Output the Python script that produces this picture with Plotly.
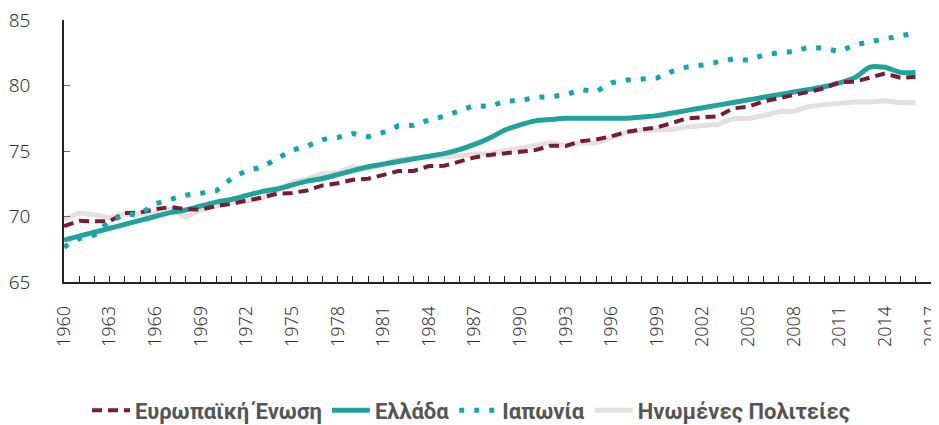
import plotly.graph_objects as go

years = list(range(1960, 2017))

eu = [69.26, 69.67, 69.63, 69.64, 70.27, 70.30, 70.56, 70.72, 70.56, 70.53,
      70.79, 70.96, 71.22, 71.44, 71.74, 71.80, 71.99, 72.37, 72.54, 72.80,
      72.88, 73.18, 73.47, 73.48, 73.85, 73.87, 74.19, 74.51, 74.70, 74.82,
      74.92, 75.07, 75.41, 75.39, 75.75, 75.88, 76.13, 76.46, 76.64, 76.79,
      77.15, 77.49, 77.58, 77.64, 78.25, 78.38, 78.78, 79.02, 79.22, 79.52,
      79.79, 80.26, 80.28, 80.57, 80.92, 80.60, 80.65]

greece = [68.2, 68.5, 68.8, 69.1, 69.4, 69.7, 70.0, 70.3, 70.5, 70.8,
          71.1, 71.3, 71.6, 71.9, 72.1, 72.4, 72.7, 72.9, 73.2, 73.5,
          73.8, 74.0, 74.2, 74.4, 74.6, 74.8, 75.1, 75.5, 76.0, 76.6,
          77.0, 77.3, 77.4, 77.5, 77.5, 77.5, 77.5, 77.5, 77.6, 77.7,
          77.9, 78.1, 78.3, 78.5, 78.7, 78.9, 79.1, 79.3, 79.5, 79.7,
          79.9, 80.2, 80.6, 81.4, 81.4, 81.0, 81.0]

japan = [67.67, 68.31, 68.59, 69.66, 70.13, 70.19, 70.97, 71.28, 71.63, 71.77,
         71.95, 72.88, 73.51, 73.76, 74.39, 75.06, 75.38, 75.87, 76.03, 76.34,
         76.09, 76.42, 76.92, 76.96, 77.37, 77.65, 78.06, 78.48, 78.39, 78.82,
         78.84, 79.10, 79.15, 79.29, 79.69, 79.54, 80.20, 80.42, 80.50, 80.57,
         81.08, 81.42, 81.56, 81.76, 82.03, 81.93, 82.32, 82.51, 82.59, 82.93,
         82.84, 82.59, 83.10, 83.33, 83.59, 83.79, 83.98]

usa = [69.77, 70.27, 70.12, 69.92, 70.17, 70.21, 70.21, 70.56, 69.95, 70.51,
       70.81, 71.11, 71.16, 71.36, 71.96, 72.60, 72.86, 73.26, 73.36, 73.80,
       73.61, 74.01, 74.36, 74.46, 74.56, 74.56, 74.61, 74.77, 74.77, 75.02,
       75.21, 75.37, 75.62, 75.42, 75.62, 75.62, 76.03, 76.43, 76.58, 76.58,
       76.64, 76.84, 76.94, 77.04, 77.49, 77.49, 77.69, 77.99, 78.04, 78.39,
       78.54, 78.64, 78.74, 78.74, 78.84, 78.69, 78.69]

names = ["Ευρωπαϊκή Ένωση", "Ελλάδα", "Ιαπωνία", "Ηνωμένες Πολιτείες"]
x_ticks = list(range(1960, 2018, 3))
y_ticks = [65, 70, 75, 80, 85]

fig = go.Figure()
fig.add_trace(go.Scatter(x=years, y=usa, name=names[3], mode="lines",
                         line=dict(color="#e5e0dc", width=5), legendrank=4))
fig.add_trace(go.Scatter(x=years, y=greece, name=names[1], mode="lines",
                         line=dict(color="#20a39d", width=5, shape="spline", smoothing=0.6),
                         legendrank=2))
fig.add_trace(go.Scatter(x=years, y=eu, name=names[0], mode="lines",
                         line=dict(color="#7a1b36", width=4, dash="10px,6px"), legendrank=1))
fig.add_trace(go.Scatter(x=years, y=japan, name=names[2], mode="lines",
                         line=dict(color="#12a6b1", width=5, dash="5px,10px"), legendrank=3))

tickfont_family = "Noto Sans, sans-serif"

# page body has an 8px default margin, so the figure is sized to fit the 939x425 window
fig.update_layout(
    width=931, height=417,
    margin=dict(l=56, r=8, t=12, b=143, autoexpand=False),
    paper_bgcolor="white", plot_bgcolor="white",
    font=dict(family=tickfont_family, color="#333333"),
    legend=dict(orientation="h", x=0.47, xanchor="center", y=-0.49, yanchor="middle",
                font=dict(family="Roboto, sans-serif", size=22, color="#555555", weight="bold"),
                itemwidth=38, tracegroupgap=0),
)
fig.update_xaxes(
    range=[1960, 2017.02], tickmode="array", tickvals=x_ticks,
    ticktext=[str(v) for v in x_ticks], tickangle=-90,
    tickfont=dict(family=tickfont_family, size=18, color="#333333", weight=300),
    showgrid=False, zeroline=False, showline=True, linecolor="#222222", linewidth=1.5,
    ticks="inside", ticklen=6, tickcolor="#222222", tickwidth=1,
    minor=dict(dtick=1, tick0=1960, ticks="inside", ticklen=6, tickcolor="#222222", tickwidth=1, showgrid=False),
    ticklabelstandoff=15, ticklabeloverflow="allow", automargin=False,
)
fig.update_yaxes(
    range=[65, 85], tickmode="array", tickvals=y_ticks,
    tickfont=dict(family=tickfont_family, size=19, color="#333333", weight=300),
    showgrid=False, zeroline=False, showline=True, linecolor="#222222", linewidth=1.5,
    ticks="inside", ticklen=6, tickcolor="#666666", tickwidth=1,
    ticklabelstandoff=28, ticklabeloverflow="allow", automargin=False,
)

fig.write_html("out.html")
